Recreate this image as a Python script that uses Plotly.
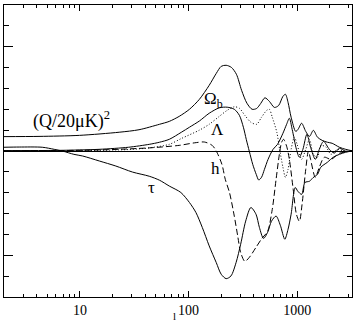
import math
import plotly.graph_objects as go

# ---- data (multipole l, derivative of C_l in arbitrary units) ----
l_Q = [2, 4.2, 9.9, 23, 35, 54, 66.5, 82, 102, 126, 155, 180, 200, 222, 248, 276, 308, 345, 385, 424,
       462, 505, 555, 617, 675, 740, 780, 825, 880, 970, 1020, 1100, 1200, 1300, 1410, 1540, 1700, 1900, 2100, 2450,
       2800, 3200]
v_Q = [0.69, 0.70, 0.75, 0.90, 1.02, 1.28, 1.42, 1.66, 2.0, 2.48, 3.15, 3.72, 4.06, 4.11, 4.01, 3.68, 2.91, 2.29, 2.0, 2.04,
       2.28, 2.55, 2.38, 2.09, 2.18, 2.62, 2.72, 2.33, 1.62, 0.94, 1.04, 1.33, 0.94, 0.70, 0.99, 0.66, 0.51, 0.42, 0.37, 0.18,
       0.08, 0.01]

l_Ob = [2, 6.4, 15, 28, 43.5, 54, 66.5, 86, 102, 126, 155, 192, 227, 264, 294, 320, 340, 363, 390, 420,
        443, 470, 500, 540, 600, 660, 740, 800, 848, 900, 985, 1049, 1130, 1230, 1330, 1470, 1600, 1750, 1980, 2200,
        2450, 2800, 3200]
v_Ob = [0.02, 0.03, 0.08, 0.18, 0.32, 0.42, 0.56, 0.9, 1.14, 1.44, 1.81, 2.07, 2.1, 2.0, 1.71, 1.14, 0.56, -0.02, -0.64, -1.12,
        -1.39, -1.26, -0.88, -0.4, 0.08, 0.32, 0.85, 1.28, 1.57, 1.04, 0.08, -0.3, 0.08, 0.8, 0.18, -0.4, 0.08, 0.46, 0.08, -0.1,
        0.13, -0.01, 0.0]

l_L = [2, 10, 28, 43.5, 66.5, 86, 126, 155, 192, 227, 264, 294, 330, 375, 424, 470, 525, 555, 590, 650,
       690, 740, 780, 825, 880, 943, 1000, 1100, 1200, 1300, 1410, 1540, 1650, 1850, 2050, 2350, 2700, 3200]
v_L = [0.0, 0.02, 0.07, 0.15, 0.32, 0.6, 1.0, 1.28, 1.66, 1.95, 2.12, 2.05, 1.71, 1.38, 1.28, 1.62, 1.95, 2.0, 1.62, 0.9,
       0.08, -0.78, -1.26, -0.88, 0.08, 0.66, 0.32, -0.4, 0.08, 0.56, -0.16, -0.3, 0.27, 0.18, -0.16, 0.08, -0.01, 0.0]

l_h = [2, 15, 43.5, 82, 113, 140, 165, 180, 203, 218, 238, 264, 284, 302, 330, 363, 418, 474, 535, 590,
       640, 686, 720, 750, 800, 848, 920, 985, 1049, 1110, 1200, 1270, 1330, 1470, 1600, 1780, 2050, 2450, 3200]
v_h = [0.0, 0.05, 0.15, 0.27, 0.39, 0.43, 0.27, 0.0, -0.64, -1.36, -1.98, -3.13, -4.09, -4.86, -5.29, -5.1, -4.62, -4.19, -3.85, -2.80,
       -1.36, -0.16, 0.42, 0.56, 0.23, -0.4, -1.84, -3.03, -3.37, -2.56, -0.88, -0.01, -0.4, -1.26, -0.78, -0.3, -0.4, -0.11, 0.0]

l_tau = [2, 2.76, 4.5, 5.8, 7.0, 8.8, 10.6, 15.1, 21.4, 30.5, 43.5, 54, 66.5, 85, 102, 117, 134, 155, 180, 200,
         222, 246, 274, 302, 336, 375, 418, 449, 490, 535, 580, 640, 700, 770, 825, 880, 960, 1015, 1100, 1180,
         1300, 1400, 1540, 1650, 1900, 2150, 2450, 2800, 3200]
v_tau = [0.18, 0.19, 0.18, 0.08, -0.01, -0.16, -0.24, -0.48, -0.72, -1.01, -1.21, -1.4, -1.68, -1.99, -2.47, -2.95, -3.67, -4.55, -5.35, -5.91,
         -6.12, -5.99, -5.35, -4.47, -3.36, -2.71, -3.03, -3.66, -4.19, -3.9, -3.37, -3.12, -3.56, -4.23, -3.75, -3.03, -1.75, -1.93, -2.08, -1.51,
         -1.45, -1.28, -1.12, -0.78, -0.54, -0.3, -0.16, -0.06, 0.0]

x_tickvals = [10, 100, 1000]
x_ticktext = ["10", "100", "1000"]
x_minor = [2, 3, 4, 5, 6, 7, 8, 9, 20, 30, 40, 50, 60, 70, 80, 90,
           200, 300, 400, 500, 600, 700, 800, 900, 2000, 3000]
x_title = "l"

labels = [
    ("(Q/20μK)<sup>2</sup>", 8.3, 1.47, 18),
    ("Ω<sub>b</sub>", 170, 2.43, 17),
    ("Λ", 184, 1.04, 17),
    ("h", 177, -0.83, 17),
    ("τ", 45.4, -1.74, 17),
]

FONT = "Liberation Serif, DejaVu Serif, serif"

fig = go.Figure()
series = [
    (l_Q, v_Q, "solid"),
    (l_Ob, v_Ob, "solid"),
    (l_L, v_L, "1px,2px"),
    (l_h, v_h, "6px,3px"),
    (l_tau, v_tau, "solid"),
]
for xs, ys, dash in series:
    fig.add_trace(go.Scatter(x=xs, y=ys, mode="lines",
                             line=dict(color="black", width=1, dash=dash, shape="spline", smoothing=0.8),
                             showlegend=False, hoverinfo="skip"))

for txt, lx, ly, fs in labels:
    fig.add_annotation(x=math.log10(lx), y=ly, xref="x", yref="y", text=txt, showarrow=False,
                       font=dict(family=FONT, size=fs, color="black"))

# axis title at the very bottom edge, below the tick labels
fig.add_annotation(x=0.5, y=-0.093, xref="paper", yref="paper", yanchor="bottom",
                   xshift=-4, text=x_title, showarrow=False,
                   font=dict(family=FONT, size=11, color="black"))

fig.update_layout(
    width=359, height=322,
    margin=dict(l=4, r=7, t=5, b=25),
    paper_bgcolor="white", plot_bgcolor="white",
    font=dict(family=FONT, color="black"),
    showlegend=False,
)
fig.update_xaxes(
    type="log", range=[math.log10(2), math.log10(3200)],
    tickvals=x_tickvals, ticktext=x_ticktext,
    ticks="inside", ticklen=6, tickwidth=1, tickcolor="black",
    tickfont=dict(family=FONT, size=14, color="black"),
    showline=True, linecolor="black", linewidth=1, mirror="ticks",
    showgrid=False, zeroline=False, automargin=False,
    minor=dict(tickvals=x_minor, ticks="inside", ticklen=3, tickwidth=1, tickcolor="black", showgrid=False),
)
fig.update_yaxes(
    range=[-7, 7], dtick=5, tick0=0,
    ticks="inside", ticklen=9, tickwidth=1, tickcolor="black",
    showticklabels=False, automargin=False,
    showline=True, linecolor="black", linewidth=1, mirror="ticks",
    showgrid=False, zeroline=True, zerolinecolor="black", zerolinewidth=1,
    minor=dict(dtick=1, ticks="inside", ticklen=5, tickwidth=1, tickcolor="black", showgrid=False),
)

fig.write_html("out.html")
